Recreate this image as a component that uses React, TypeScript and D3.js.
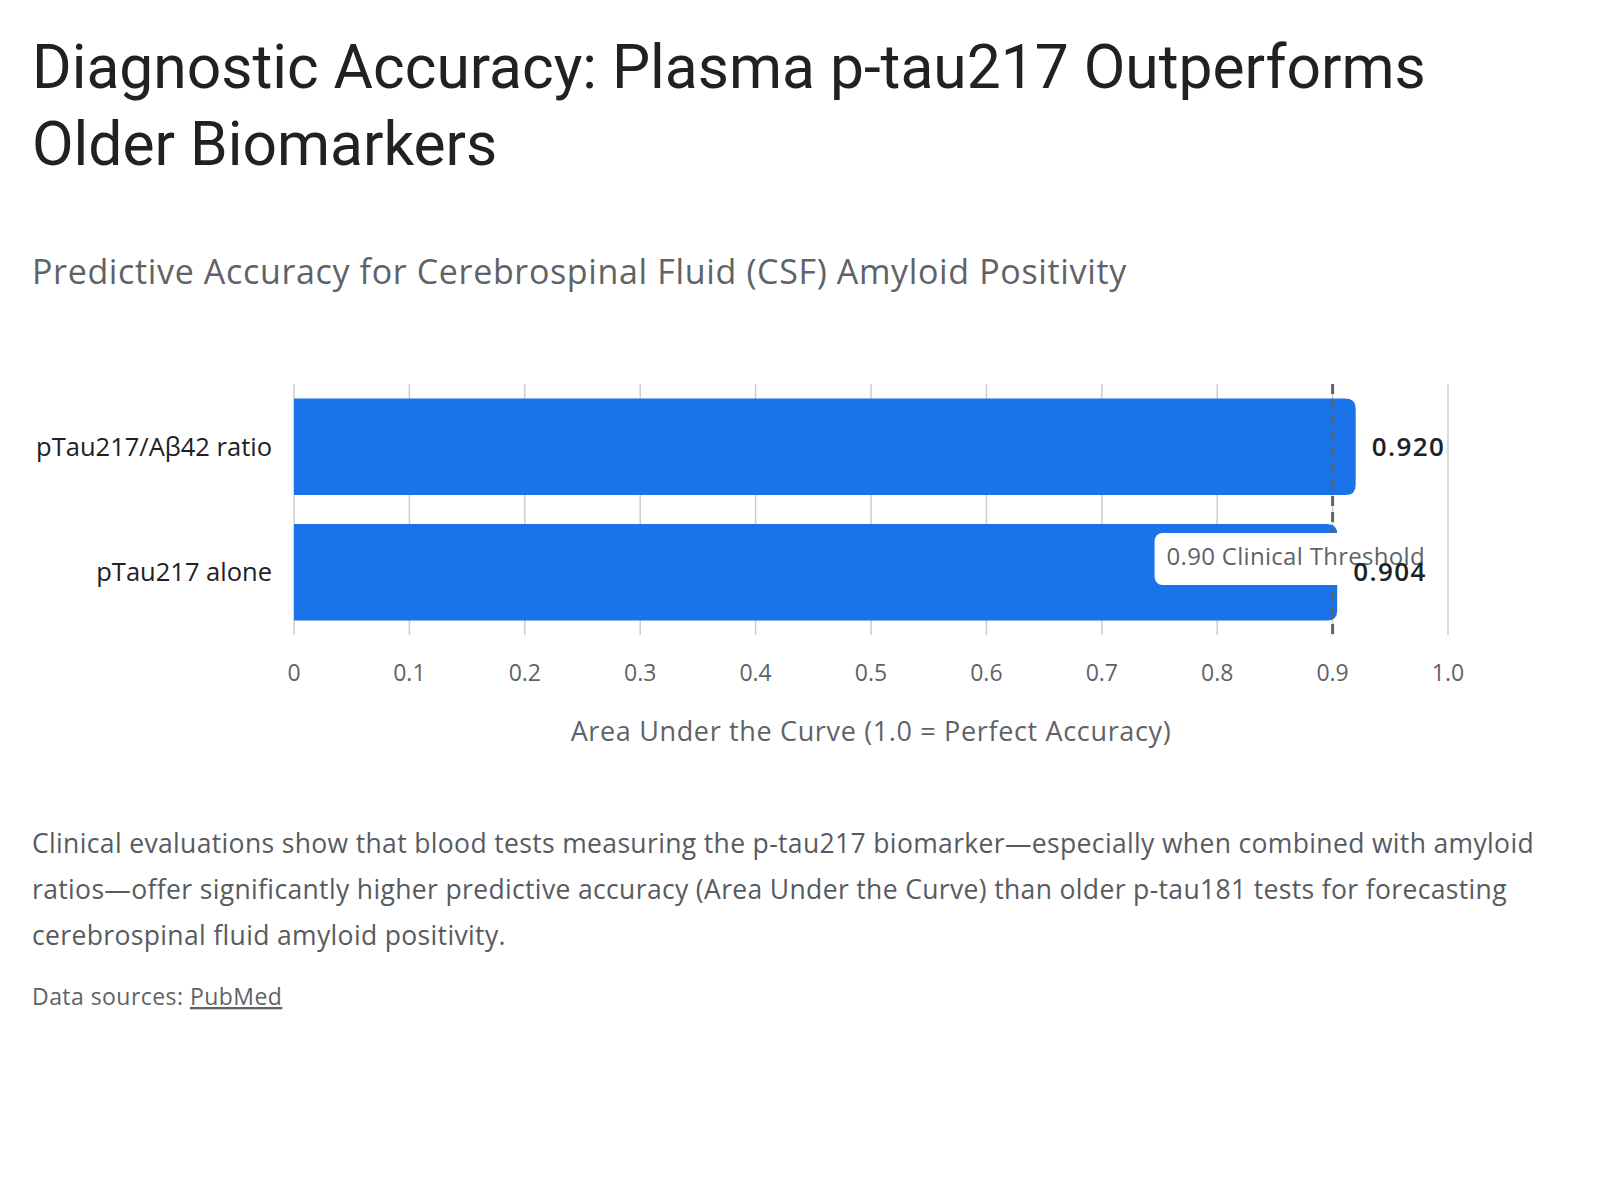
import React, { useRef, useEffect } from 'react';
import * as d3 from 'd3';

const titleLines = ['Diagnostic Accuracy: Plasma p-tau217 Outperforms', 'Older Biomarkers'];
const subtitle = 'Predictive Accuracy for Cerebrospinal Fluid (CSF) Amyloid Positivity';
const categories = ['pTau217/Aβ42 ratio', 'pTau217 alone'];
const aucValues = [0.92, 0.904];
const xTicks = [0, 0.1, 0.2, 0.3, 0.4, 0.5, 0.6, 0.7, 0.8, 0.9, 1.0];
const xTickLabels = ['0', '0.1', '0.2', '0.3', '0.4', '0.5', '0.6', '0.7', '0.8', '0.9', '1.0'];
const xAxisTitle = 'Area Under the Curve (1.0 = Perfect Accuracy)';
const threshold = 0.9;
const thresholdLabel = '0.90 Clinical Threshold';
const paragraphLines = [
    'Clinical evaluations show that blood tests measuring the p-tau217 biomarker\u2014especially when combined with amyloid',
    'ratios\u2014offer significantly higher predictive accuracy (Area Under the Curve) than older p-tau181 tests for forecasting',
    'cerebrospinal fluid amyloid positivity.',
];

const TITLE_FONT = 'Roboto, "Noto Sans", sans-serif';
const FONT = '"Open Sans", "Noto Sans", sans-serif';

const App: React.FC = () => {
    const svgRef = useRef<SVGSVGElement | null>(null);

    useEffect(() => {
        const svg = d3.select(svgRef.current);
        svg.selectAll('*').remove();

        const width = 1600;
        const height = 1200;
        svg.attr('width', width).attr('height', height).style('font-family', FONT);

        svg.append('rect').attr('width', width).attr('height', height).attr('fill', '#fff');

        // Title + subtitle
        svg.append('g')
            .selectAll('text')
            .data(titleLines)
            .enter()
            .append('text')
            .attr('x', 32)
            .attr('y', (d, i) => 88 + i * 77)
            .attr('font-family', TITLE_FONT)
            .attr('font-size', 60.5)
            .attr('fill', '#202124')
            .text(d => d);

        svg.append('text')
            .attr('x', 32)
            .attr('y', 284)
            .attr('font-size', 34)
            .attr('letter-spacing', 0.65)
            .attr('fill', '#5f6368')
            .text(subtitle);

        // Scales
        const x = d3.scaleLinear().domain([0, 1]).range([294, 1448]);
        const y = d3.scaleBand<string>()
            .domain(categories)
            .range([384, 635])
            .paddingInner(0.23)
            .paddingOuter(0.115);

        const plot = svg.append('g');

        // Gridlines
        plot.selectAll('.grid')
            .data(xTicks)
            .enter()
            .append('line')
            .attr('x1', d => x(d))
            .attr('x2', d => x(d))
            .attr('y1', 384)
            .attr('y2', 635)
            .attr('stroke', '#cccccc')
            .attr('stroke-width', 1.5);

        // Tick labels
        plot.selectAll('.tick')
            .data(xTicks)
            .enter()
            .append('text')
            .attr('x', d => x(d))
            .attr('y', 681)
            .attr('text-anchor', 'middle')
            .attr('font-size', 23)
            .attr('fill', '#5f6368')
            .text((d, i) => xTickLabels[i]);

        plot.append('text')
            .attr('x', (x(0) + x(1)) / 2)
            .attr('y', 741)
            .attr('text-anchor', 'middle')
            .attr('font-size', 27)
            .attr('letter-spacing', 0.65)
            .attr('fill', '#5f6368')
            .text(xAxisTitle);

        // Category labels
        plot.selectAll('.cat')
            .data(categories)
            .enter()
            .append('text')
            .attr('x', 272)
            .attr('y', d => (y(d) as number) + y.bandwidth() / 2)
            .attr('dy', '0.35em')
            .attr('text-anchor', 'end')
            .attr('font-size', 25.5)
            .attr('fill', '#202124')
            .text(d => d);

        // Bars, rounded at the right end only
        const r = 10;
        const barPath = (v: number, cat: string) => {
            const x0 = x(0);
            const x1 = x(v);
            const y0 = y(cat) as number;
            const y1 = y0 + y.bandwidth();
            return `M${x0},${y0}H${x1 - r}Q${x1},${y0} ${x1},${y0 + r}V${y1 - r}Q${x1},${y1} ${x1 - r},${y1}H${x0}Z`;
        };
        plot.selectAll('.bar')
            .data(aucValues)
            .enter()
            .append('path')
            .attr('d', (d, i) => barPath(d, categories[i]))
            .attr('fill', '#1a73e8');

        // Threshold line
        plot.append('line')
            .attr('x1', x(threshold))
            .attr('x2', x(threshold))
            .attr('y1', 384)
            .attr('y2', 635)
            .attr('stroke', '#5f6368')
            .attr('stroke-width', 3)
            .attr('stroke-dasharray', '10,6');

        // Threshold annotation
        const ann = plot.append('g');
        const annText = ann.append('text')
            .attr('x', x(threshold) - 166)
            .attr('y', 557)
            .attr('dy', '0.35em')
            .attr('font-size', 24)
            .attr('letter-spacing', 0.3)
            .attr('fill', '#5f6368')
            .text(thresholdLabel);
        const tw = (annText.node() as SVGTextElement).getComputedTextLength();
        ann.insert('rect', 'text')
            .attr('x', x(threshold) - 178)
            .attr('y', 533)
            .attr('width', tw + 24)
            .attr('height', 52)
            .attr('rx', 8)
            .attr('fill', '#fff');

        // Value labels
        plot.selectAll('.val')
            .data(aucValues)
            .enter()
            .append('text')
            .attr('x', d => x(d) + 16)
            .attr('y', (d, i) => (y(categories[i]) as number) + y.bandwidth() / 2)
            .attr('dy', '0.35em')
            .attr('font-size', 26)
            .attr('letter-spacing', 1.4)
            .attr('font-weight', 600)
            .attr('fill', '#202124')
            .text(d => d3.format('.3f')(d));

        // Paragraph + source
        svg.append('g')
            .selectAll('text')
            .data(paragraphLines)
            .enter()
            .append('text')
            .attr('x', 32)
            .attr('y', (d, i) => 853 + i * 46)
            .attr('font-size', 26.5)
            .attr('letter-spacing', 0.35)
            .attr('fill', '#575b5f')
            .text(d => d);

        const src = svg.append('text')
            .attr('x', 32)
            .attr('y', 1005)
            .attr('font-size', 23)
            .attr('letter-spacing', 0.45)
            .attr('fill', '#5f6368');
        src.append('tspan').text('Data sources: ');
        src.append('tspan').attr('text-decoration', 'underline').text('PubMed');
    }, []);

    return (
        <div style={{ position: 'absolute', left: 0, top: 0 }}>
            <svg ref={svgRef} style={{ display: 'block' }}></svg>
        </div>
    );
};

export default App;
